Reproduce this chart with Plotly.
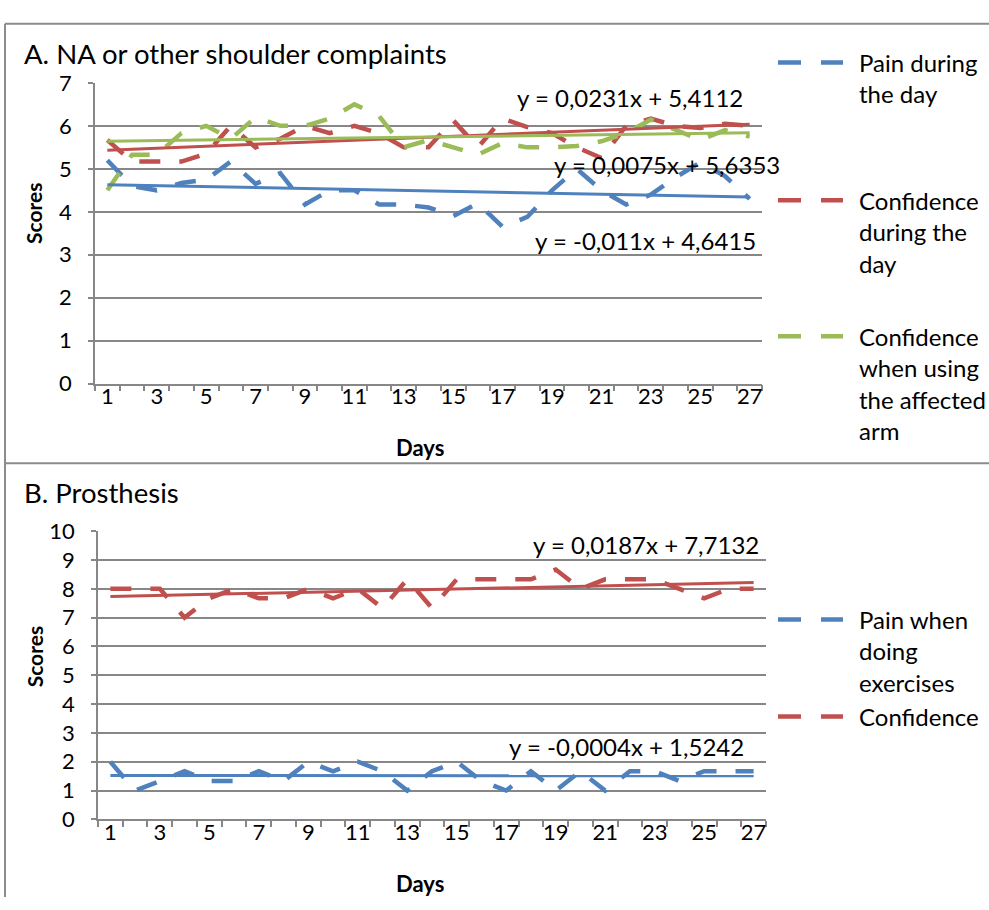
import plotly.graph_objects as go

# ---------------- data ----------------
days = list(range(1, 28))

# Panel A: NA or other shoulder complaints
pain_day = [5.2, 4.6, 4.5, 4.67, 4.75, 5.17, 4.65, 4.9, 4.17, 4.5, 4.5, 4.17, 4.17, 4.1,
            3.9, 4.2, 3.65, 3.88, 4.5, 5.0, 4.5, 4.17, 4.4, 4.8, 5.15, 4.83, 4.3]
conf_day = [5.67, 5.17, 5.17, 5.17, 5.35, 6.0, 5.5, 5.7, 6.0, 5.83, 6.0, 5.83, 5.5, 5.5,
            6.13, 5.5, 6.17, 5.97, 5.83, 5.5, 5.25, 6.0, 6.17, 6.0, 5.95, 6.05, 6.0]
conf_arm = [4.5, 5.33, 5.33, 5.83, 6.0, 5.7, 6.2, 6.0, 6.0, 6.17, 6.5, 6.23, 5.5, 5.67,
            5.5, 5.33, 5.6, 5.5, 5.5, 5.53, 5.64, 5.83, 6.15, 5.9, 5.67, 5.9, 5.75]

# Panel B: Prosthesis
pain_ex = [2, 1, 1.33, 1.67, 1.33, 1.33, 1.67, 1.33, 2, 1.67, 2, 1.67, 1, 1.67,
           2, 1.33, 1, 1.67, 1, 1.67, 1, 1.67, 1.67, 1.33, 1.67, 1.67, 1.67]
conf_pros = [8, 8, 8, 7, 7.67, 8, 7.67, 7.67, 8, 7.67, 8, 7.33, 8.33, 7.33,
             8.33, 8.33, 8.33, 8.33, 8.67, 8, 8.33, 8.33, 8.33, 8, 7.67, 8, 8]

# Linear trendlines as printed on the chart (slope, intercept)
slopes_A = [-0.011, 0.0231, 0.0075]
intercepts_A = [4.6415, 5.4112, 5.6353]
slopes_B = [-0.0004, 0.0187]
intercepts_B = [1.5242, 7.7132]

names_A = [["Pain during", "the day"],
           ["Confidence", "during the", "day"],
           ["Confidence", "when using", "the affected", "arm"]]
names_B = [["Pain when", "doing", "exercises"], ["Confidence"]]

xticks = days[::2]
yticks_A = list(range(0, 8))
yticks_B = list(range(0, 11))

# ---------------- styling ----------------
W, H = 989, 910
BLUE, RED, GREEN = "#4F81BD", "#C0504D", "#9BBB59"
GRID = "#878787"
FONT = "Lato"
DASH = "21px,19px"


def px(x):
    return x / W


def py(y):
    return 1 - y / H


fig = go.Figure()

series_A = [pain_day, conf_day, conf_arm]
colors_A = [BLUE, RED, GREEN]
for vals, col in zip(series_A, colors_A):
    fig.add_trace(go.Scatter(x=days, y=vals, mode="lines", xaxis="x", yaxis="y",
                             line=dict(color=col, width=4.5, dash=DASH),
                             showlegend=False, hoverinfo="skip"))
for a, b, col in zip(slopes_A, intercepts_A, colors_A):
    xs = [days[0], days[-1]]
    fig.add_trace(go.Scatter(x=xs, y=[a * x + b for x in xs], mode="lines", xaxis="x", yaxis="y",
                             line=dict(color=col, width=3), showlegend=False, hoverinfo="skip"))

series_B = [pain_ex, conf_pros]
colors_B = [BLUE, RED]
for vals, col in zip(series_B, colors_B):
    fig.add_trace(go.Scatter(x=days, y=vals, mode="lines", xaxis="x2", yaxis="y2",
                             line=dict(color=col, width=4.5, dash=DASH),
                             showlegend=False, hoverinfo="skip"))
for a, b, col in zip(slopes_B, intercepts_B, colors_B):
    xs = [days[0], days[-1]]
    fig.add_trace(go.Scatter(x=xs, y=[a * x + b for x in xs], mode="lines", xaxis="x2", yaxis="y2",
                             line=dict(color=col, width=3), showlegend=False, hoverinfo="skip"))

tickfont = dict(family=FONT, size=22, color="black")


def xaxis_cfg(dom, anchor):
    return dict(domain=dom, anchor=anchor, range=[0.5, 27.5], tickmode="array",
                tickvals=xticks, ticktext=[str(t) for t in xticks], ticks="",
                showgrid=False, zeroline=False, showline=True, linecolor=GRID, linewidth=1.5,
                tickfont=tickfont, ticklabelstandoff=-8,
                minor=dict(tick0=0.5, dtick=1, ticks="outside", ticklen=6,
                           tickcolor=GRID, tickwidth=1.5, showgrid=False))


def yaxis_cfg(dom, anchor, rng, vals):
    return dict(domain=dom, anchor=anchor, range=rng, tickmode="array", tickvals=vals,
                ticks="outside", ticklen=5, tickcolor=GRID, tickwidth=1.5,
                showgrid=True, gridcolor=GRID, gridwidth=1.5, zeroline=False,
                showline=True, linecolor=GRID, linewidth=1.5, tickfont=tickfont,
                ticklabelstandoff=12)


fig.update_layout(
    width=W, height=H, autosize=False,
    margin=dict(l=0, r=0, t=0, b=0),
    paper_bgcolor="white", plot_bgcolor="white",
    showlegend=False,
    font=dict(family=FONT, color="black"),
    xaxis=xaxis_cfg([px(95), px(762)], "y"),
    yaxis=yaxis_cfg([py(381), py(71)], "x", [0, 7], yticks_A),
    xaxis2=xaxis_cfg([px(98), px(766)], "y2"),
    yaxis2=yaxis_cfg([py(830), py(533)], "x2", [0, 10], yticks_B),
)

# ---------------- frames ----------------
frame = dict(color="#8c8c8c", width=2)
shapes = [
    dict(type="line", xref="paper", yref="paper", x0=px(5), x1=1, y0=py(10), y1=py(10), line=frame),
    dict(type="line", xref="paper", yref="paper", x0=px(5), x1=px(5), y0=py(10), y1=0, line=frame),
    dict(type="line", xref="paper", yref="paper", x0=px(5), x1=1, y0=py(463), y1=py(463), line=frame),
]

annotations = []


def text(x, y, s, size, xanchor="left", bold=False, angle=0):
    annotations.append(dict(xref="paper", yref="paper", x=px(x), y=py(y), text=s,
                            showarrow=False, xanchor=xanchor, yanchor="middle", textangle=angle,
                            align="left",
                            font=dict(family=FONT, size=size, color="black",
                                      weight="bold" if bold else "normal")))


# titles
text(22, 41, "A. NA or other shoulder complaints", 27.5)
text(22, 493, "B. Prosthesis", 27.5)
# axis titles
text(34, 206, "Scores", 21, xanchor="center", bold=True, angle=-90)
text(420, 447, "Days", 22, xanchor="center", bold=True)
text(34, 663, "Scores", 21, xanchor="center", bold=True, angle=-90)
text(420, 896, "Days", 22, xanchor="center", bold=True)


def eq(a, b):
    sa = str(a).replace(".", ",")
    sb = str(b).replace(".", ",")
    return f"y = {sa}x + {sb}"


eq_pos_A = [(645, 233), (630, 86), (667, 155)]
for a, b, (x, y) in zip(slopes_A, intercepts_A, eq_pos_A):
    text(x, y, eq(a, b), 24, xanchor="center")
eq_pos_B = [(626, 755), (646, 547)]
for a, b, (x, y) in zip(slopes_B, intercepts_B, eq_pos_B):
    text(x, y, eq(a, b), 24, xanchor="center")

# manual legends (dashed sample + label lines)
LINE_GAP = 32.4
leg_A = [50, 192, 332]
for lines, col, ly in zip(names_A, colors_A, leg_A):
    shapes.append(dict(type="line", xref="paper", yref="paper", x0=px(778), x1=px(843),
                       y0=py(ly), y1=py(ly), line=dict(color=col, width=4.5, dash="23px,20px")))
    for i, s in enumerate(lines):
        text(857, ly + i * LINE_GAP, s, 24)
leg_B = [624, 724]
for lines, col, ly in zip(names_B, colors_B, leg_B):
    shapes.append(dict(type="line", xref="paper", yref="paper", x0=px(778), x1=px(843),
                       y0=py(ly), y1=py(ly), line=dict(color=col, width=4.5, dash="23px,20px")))
    for i, s in enumerate(lines):
        text(857, ly + i * LINE_GAP, s, 24)

fig.update_layout(shapes=shapes, annotations=annotations)
fig.write_html("out.html")
